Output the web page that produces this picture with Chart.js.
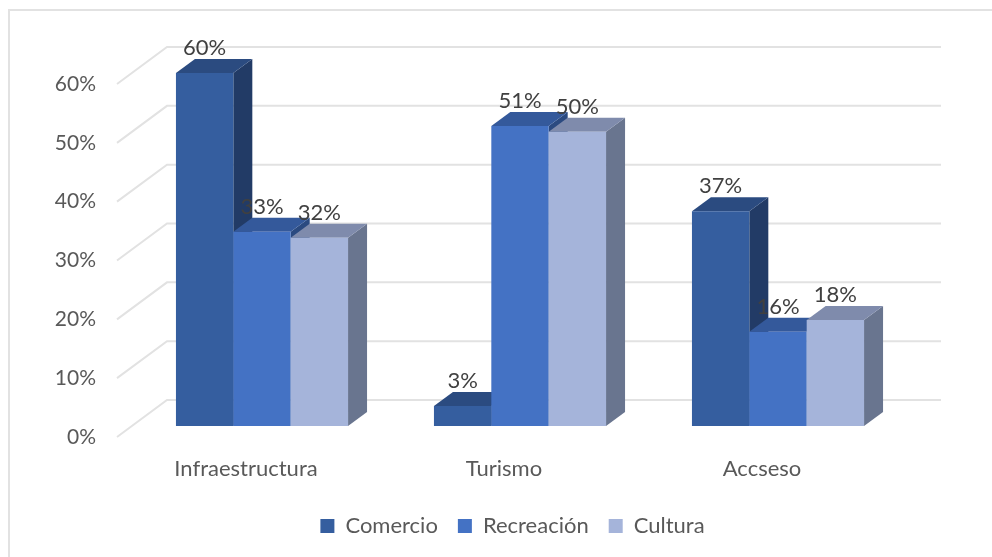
<!DOCTYPE html>
<html>
<head>
<meta charset="utf-8">
<style>
html, body { margin: 0; padding: 0; background: #fff; }
#wrap { position: relative; width: 992px; height: 557px; }
canvas { filter: blur(0.4px); }
</style>
<script src="https://cdn.jsdelivr.net/npm/chart.js@4"></script>
</head>
<body>
<div id="wrap"><canvas id="chart" width="992" height="557"></canvas></div>
<script>
const categories = ["Infraestructura", "Turismo", "Accseso"];
const comercio = [60, 3.4, 36.5];
const recreacion = [33, 51, 16];
const cultura = [32, 50, 18];
const labelText = [
	["60%", "3%", "37%"],
	["33%", "51%", "16%"],
	["32%", "50%", "18%"],
];

// front, top and side faces of each series
const faces = [
	{ front: "#355E9F", top: "#2B4B80", side: "#223B66" },
	{ front: "#4472C4", top: "#34599B", side: "#2B4A80" },
	{ front: "#A5B4DA", top: "#7F8BAC", side: "#69758F" },
];

const textColor = "#595959";
const gridColor = "#e2e2e2";
const depth = { x: 19, y: -14 }; // depth of a bar
const wall = { x: 50, y: -37 }; // depth of the floor
const barShift = { x: 16, y: -11 }; // bars stand in the middle of the floor

const threeD = {
	id: "threeD",
	beforeDatasetsDraw(chart) {
		const { ctx, scales, chartArea } = chart;
		ctx.save();
		ctx.strokeStyle = gridColor;
		ctx.lineWidth = 2;
		scales.y.ticks.forEach((t) => {
			const y = scales.y.getPixelForValue(t.value);
			ctx.beginPath();
			ctx.moveTo(chartArea.left, y);
			ctx.lineTo(chartArea.left + wall.x, y + wall.y);
			ctx.lineTo(chartArea.right + wall.x, y + wall.y);
			ctx.stroke();
		});
		ctx.restore();

		// left to right, so each bar covers the side of the one before it
		ctx.save();
		ctx.translate(barShift.x, barShift.y);
		chart.data.datasets.forEach((ds, i) => {
			const f = faces[i];
			chart.getDatasetMeta(i).data.forEach((bar) => {
				const left = bar.x - bar.width / 2;
				const right = bar.x + bar.width / 2;
				ctx.fillStyle = f.side;
				ctx.beginPath();
				ctx.moveTo(right, bar.y);
				ctx.lineTo(right + depth.x, bar.y + depth.y);
				ctx.lineTo(right + depth.x, bar.base + depth.y);
				ctx.lineTo(right, bar.base);
				ctx.fill();
				ctx.fillStyle = f.top;
				ctx.beginPath();
				ctx.moveTo(left, bar.y);
				ctx.lineTo(left + depth.x, bar.y + depth.y);
				ctx.lineTo(right + depth.x, bar.y + depth.y);
				ctx.lineTo(right, bar.y);
				ctx.fill();
				bar.draw(ctx);
			});
		});
		ctx.restore();
	},
	beforeDatasetDraw() {
		return false; // drawn above
	},
	afterDatasetsDraw(chart) {
		const { ctx } = chart;
		ctx.save();
		ctx.fillStyle = "#404040";
		ctx.font = "22px Lato";
		ctx.textAlign = "center";
		ctx.textBaseline = "middle";
		chart.data.datasets.forEach((ds, i) => {
			chart.getDatasetMeta(i).data.forEach((bar, j) => {
				ctx.fillText(labelText[i][j], bar.x + barShift.x, bar.y + barShift.y - 25);
			});
		});
		ctx.restore();
		// outer frame, only left and top are in the picture
		ctx.save();
		ctx.strokeStyle = gridColor;
		ctx.lineWidth = 2;
		ctx.beginPath();
		ctx.moveTo(9, 557);
		ctx.lineTo(9, 10);
		ctx.lineTo(992, 10);
		ctx.stroke();
		ctx.restore();
	},
};

new Chart(document.getElementById("chart"), {
	type: "bar",
	plugins: [threeD],
	data: {
		labels: categories,
		datasets: [
			{ label: "Comercio", data: comercio, backgroundColor: faces[0].front },
			{ label: "Recreación", data: recreacion, backgroundColor: faces[1].front },
			{ label: "Cultura", data: cultura, backgroundColor: faces[2].front },
		],
	},
	options: {
		responsive: false,
		animation: false,
		layout: { padding: { left: 33, top: 84, right: 0, bottom: 10 } },
		datasets: { bar: { categoryPercentage: 0.667, barPercentage: 1 } },
		scales: {
			x: {
				grid: { display: false },
				border: { display: false },
				ticks: { color: textColor, font: { family: "Lato", size: 22 }, padding: 11, maxRotation: 0 },
				afterFit: (s) => { s.height = 58; },
			},
			y: {
				min: 0,
				max: 60,
				grid: { display: false },
				border: { display: false },
				ticks: {
					stepSize: 10,
					color: textColor,
					padding: 13,
					font: { family: "Lato", size: 21 },
					callback: (v) => v + "%",
				},
				afterFit: (s) => { s.width = 84; },
			},
			// keeps the plot clear of the right edge, legend stays centred
			spacer: {
				position: "right",
				grid: { display: false },
				border: { display: false },
				ticks: { display: false },
				afterFit: (s) => { s.width = 101; },
			},
		},
		plugins: {
			tooltip: { enabled: false },
			legend: {
				position: "bottom",
				labels: {
					boxWidth: 14,
					boxHeight: 14,
					padding: 20,
					color: textColor,
					font: { family: "Lato", size: 22 },
				},
			},
		},
	},
});
</script>
</body>
</html>
